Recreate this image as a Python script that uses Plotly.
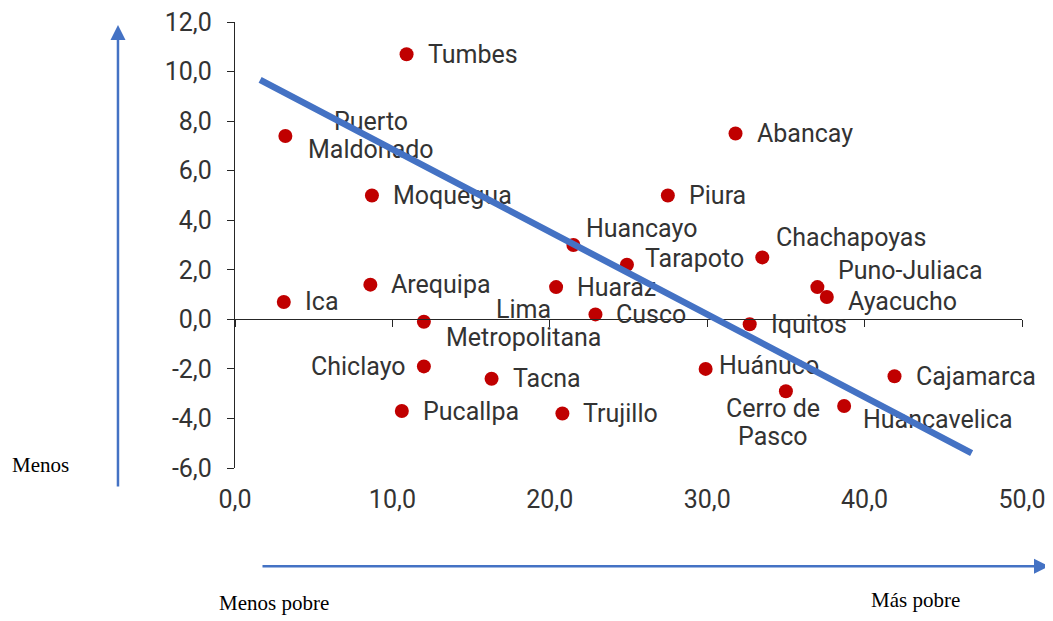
import plotly.graph_objects as go

# ---------------- data ----------------
ciudades = ["Tumbes", "Puerto<br>Maldonado", "Moquegua", "Abancay", "Piura", "Huancayo",
            "Tarapoto", "Chachapoyas", "Puno-Juliaca", "Ayacucho", "Ica", "Arequipa",
            "Huaraz", "Cusco", "Lima<br>Metropolitana", "Iquitos", "Chiclayo", "Tacna",
            "Huánuco", "Cajamarca", "Cerro de<br>Pasco", "Huancavelica", "Pucallpa", "Trujillo"]
pobreza = [10.9, 3.2, 8.7, 31.8, 27.5, 21.5,
           24.9, 33.5, 37.0, 37.6, 3.1, 8.6,
           20.4, 22.9, 12.0, 32.7, 12.0, 16.3,
           29.9, 41.9, 35.0, 38.7, 10.6, 20.8]
empleo = [10.7, 7.4, 5.0, 7.5, 5.0, 3.0,
          2.2, 2.5, 1.3, 0.9, 0.7, 1.4,
          1.3, 0.2, -0.1, -0.2, -1.9, -2.4,
          -2.0, -2.3, -2.9, -3.5, -3.7, -3.8]
tendencia_x = [1.5, 46.8]
tendencia_y = [9.7, -5.4]
y_ticks = [-6, -4, -2, 0, 2, 4, 6, 8, 10, 12]
y_tick_labels = ["-6,0", "-4,0", "-2,0", "0,0", "2,0", "4,0", "6,0", "8,0", "10,0", "12,0"]
x_ticks = [0, 10, 20, 30, 40, 50]
x_tick_labels = ["0,0", "10,0", "20,0", "30,0", "40,0", "50,0"]

# ---------------- styles ----------------
RED = "#C00000"
BLUE = "#4472C4"
AXIS = "#262626"
TXT = "#333333"
FONT = "Roboto"
FS = 25
LINE_GAP = 28  # px between lines of two-line labels

# label placement: (xanchor, xshift, yshift of block centre)
default_place = ("left", 19, 0)
place = {
    "Puerto<br>Maldonado": ("center", 86, 0),
    "Huancayo": ("left", 11, 17),
    "Tarapoto": ("left", 16, 6),
    "Chachapoyas": ("left", 12, 20),
    "Puno-Juliaca": ("left", 19, 17),
    "Ayacucho": ("left", 19, -4),
    "Lima<br>Metropolitana": ("center", 100, -1.5),
    "Chiclayo": ("right", -16, 0),
    "Huánuco": ("left", 11, 3),
    "Cerro de<br>Pasco": ("center", -13, -31),
    "Huancavelica": ("left", 17, -13),
}

fig = go.Figure()
fig.add_trace(go.Scatter(
    x=pobreza, y=empleo, mode="markers",
    marker=dict(color=RED, size=14, line=dict(width=0)),
    showlegend=False, hoverinfo="skip"))
# empty trace to register the zero-line axis
fig.add_trace(go.Scatter(x=[], y=[], xaxis="x2", yaxis="y", showlegend=False,
                         hoverinfo="skip"))

annotations = []
for name, xv, yv in zip(ciudades, pobreza, empleo):
    xa, xs, ys = place.get(name, default_place)
    lines = name.split("<br>")
    n = len(lines)
    for i, ln in enumerate(lines):
        off = ((n - 1) / 2 - i) * LINE_GAP
        annotations.append(dict(
            x=xv, y=yv, xref="x", yref="y", text=ln, showarrow=False,
            xanchor=xa, yanchor="middle", xshift=xs, yshift=ys + off,
            font=dict(family=FONT, size=FS, color=TXT)))

# trend line (drawn above labels)
annotations.append(dict(
    x=tendencia_x[1], y=tendencia_y[1], ax=tendencia_x[0], ay=tendencia_y[0],
    xref="x", yref="y", axref="x", ayref="y", text="", showarrow=True,
    arrowhead=0, arrowwidth=6.5, arrowcolor=BLUE, standoff=0, startstandoff=0))

# axis arrows
annotations.append(dict(
    x=-0.1487, y=0.9933, xref="paper", yref="paper", ax=0, ay=463,
    text="", showarrow=True, arrowhead=2, arrowsize=1.2, arrowwidth=2.5,
    arrowcolor=BLUE, standoff=0))
annotations.append(dict(
    x=1.0343, y=-0.2205, xref="paper", yref="paper", ax=-788, ay=0,
    text="", showarrow=True, arrowhead=2, arrowsize=1.2, arrowwidth=2.5,
    arrowcolor=BLUE, standoff=0))

serif = dict(family="Liberation Serif", size=21, color="#000000")
annotations.append(dict(x=0.0497, y=-0.3029, xref="paper", yref="paper",
                        text="Menos pobre", showarrow=False, font=serif,
                        xanchor="center", yanchor="middle"))
annotations.append(dict(x=0.8653, y=-0.2962, xref="paper", yref="paper",
                        text="Más pobre", showarrow=False, font=serif,
                        xanchor="center", yanchor="middle"))
annotations.append(dict(x=-0.2477, y=0.0067, xref="paper", yref="paper",
                        text="Menos", showarrow=False, font=serif,
                        xanchor="center", yanchor="middle"))

# page body has an 8px default margin: compensate in figure size / margins
fig.update_layout(
    width=1045, height=613, autosize=False,
    margin=dict(l=227, r=31, t=14, b=153, pad=0, autoexpand=False),
    paper_bgcolor="white", plot_bgcolor="white",
    showlegend=False,
    xaxis=dict(range=[0, 50], tickvals=x_ticks, ticktext=x_tick_labels,
               showline=False, ticks="", showgrid=False, zeroline=False,
               tickfont=dict(family=FONT, size=FS, color=TXT),
               ticklabelstandoff=14, ticklabeloverflow="allow",
               fixedrange=True, automargin=False),
    xaxis2=dict(range=[0, 50], tickvals=x_ticks, overlaying="x", anchor="free",
                position=6 / 18, side="bottom", showline=True, linecolor=AXIS,
                linewidth=1.3, ticks="outside", ticklen=7, tickwidth=1.3,
                tickcolor=AXIS, showticklabels=False, showgrid=False,
                zeroline=False, fixedrange=True, automargin=False),
    yaxis=dict(range=[-6, 12], tickvals=y_ticks, ticktext=y_tick_labels,
               showline=True, linecolor=AXIS, linewidth=1.3, ticks="outside",
               ticklen=7, tickwidth=1.3, tickcolor=AXIS, showgrid=False,
               zeroline=False, tickfont=dict(family=FONT, size=FS, color=TXT),
               ticklabelstandoff=10, ticklabeloverflow="allow",
               fixedrange=True, automargin=False),
    annotations=annotations,
)

fig.write_html("out.html")
